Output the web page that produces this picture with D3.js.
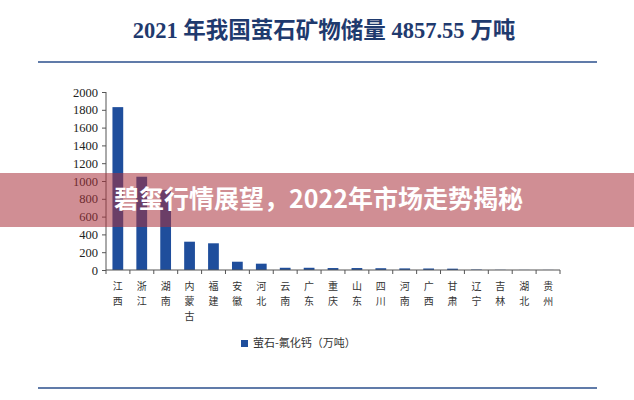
<!DOCTYPE html><html><head><meta charset="utf-8"><script src="https://cdn.jsdelivr.net/npm/d3@7"></script>
<style>body{margin:0;background:#fff}svg{display:block}</style></head><body><svg id="c" width="634" height="400"></svg>
<script>
const categories=["江西","浙江","湖南","内蒙古","福建","安徽","河北","云南","广东","重庆","山东","四川","河南","广西","甘肃","辽宁","吉林","湖北","贵州"];
const values=[1830,1048,900,318,300,93,71,25,25,22,22,20,18,17,15,5,2,1,1];
const yTicks=[0,200,400,600,800,1000,1200,1400,1600,1800,2000];
const title="2021 年我国萤石矿物储量 4857.55 万吨";
const legendLabel="萤石-氟化钙（万吨）";
const banner="碧玺行情展望，2022年市场走势揭秘";
const svg=d3.select("#c");
svg.append("rect").attr("width",634).attr("height",400).attr("fill","#fff");
svg.append("text").attr("x",324).attr("y",38).attr("text-anchor","middle").attr("font-family","Liberation Serif, Noto Sans CJK SC").attr("font-weight","bold").attr("font-size",22.5).attr("fill","#1f3a6e").text(title);
svg.append("line").attr("x1",38).attr("x2",597).attr("y1",62).attr("y2",62).attr("stroke","#2b4f8c").attr("stroke-width",1.5);
svg.append("line").attr("x1",38).attr("x2",597).attr("y1",388).attr("y2",388).attr("stroke","#2b4f8c").attr("stroke-width",1.5);
const x=d3.scaleBand().domain(categories).range([106,560]).paddingInner(0.55).paddingOuter(0.27);
const y=d3.scaleLinear().domain([0,2000]).range([270,92]);
const gy=svg.append("g").attr("transform","translate(106,0)").call(d3.axisLeft(y).tickValues(yTicks).tickFormat(d3.format("d")).tickSize(4).tickPadding(4));
gy.selectAll("text").attr("font-family","Liberation Serif").attr("font-size",12.5).attr("fill","#222");
gy.selectAll("line,path").attr("stroke","#555");
gy.select("path").attr("d","M0,92V270");
svg.selectAll(".bar").data(values).join("rect").attr("x",(d,i)=>x(categories[i])).attr("width",x.bandwidth()).attr("y",d=>y(d)).attr("height",d=>270-y(d)).attr("fill","#1f4e9c");
svg.append("line").attr("x1",106).attr("x2",560).attr("y1",270).attr("y2",270).attr("stroke","#555");
d3.range(categories.length+1).forEach(i=>{const xx=106+i*(454/categories.length);svg.append("line").attr("x1",xx).attr("x2",xx).attr("y1",270).attr("y2",274).attr("stroke","#555");});
categories.forEach(c=>{[...c].forEach((ch,k)=>svg.append("text").attr("font-family","Noto Sans CJK SC").attr("font-size",10).attr("fill","#333").attr("text-anchor","middle").attr("x",x(c)+x.bandwidth()/2).attr("y",290+k*15).text(ch));});
svg.append("rect").attr("x",241).attr("y",340).attr("width",7).attr("height",7).attr("fill","#1f4e9c");
svg.append("text").attr("x",253).attr("y",347).attr("font-family","Noto Sans CJK SC").attr("font-size",11).attr("fill","#333").text(legendLabel);
svg.append("rect").attr("x",0).attr("y",173).attr("width",634).attr("height",54).attr("fill","rgba(170,50,60,0.55)");
svg.append("text").attr("x",114).attr("y",208).attr("font-family","Noto Sans CJK SC").attr("font-weight","bold").attr("font-size",25).attr("fill","#fff").text(banner);
</script></body></html>
